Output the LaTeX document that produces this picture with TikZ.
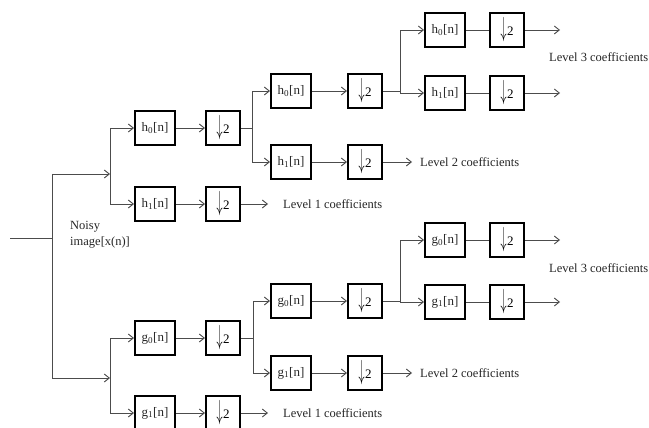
\documentclass[tikz,border=0pt]{standalone}
\usepackage{fontspec}
\usepackage{graphicx}
\setmainfont{Liberation Serif}
\usetikzlibrary{arrows.meta}
\newcommand\dnlab{\raisebox{-1pt}{\scalebox{1}[2.3]{$\downarrow$}}\kern0.5pt 2}
\newcommand\flab[2]{#1\textsubscript{#2}[n]}
\begin{document}
\begin{tikzpicture}[x=1pt,y=-1pt,
  filt/.style={draw=black, line width=2pt, minimum width=40pt, minimum height=34pt, inner sep=0pt, font=\fontsize{13}{13}\selectfont, text=black!85},
  dnbox/.style={filt, minimum width=34pt, minimum height=34pt, text=black},
  conn/.style={draw=black!70, line width=0.9pt},
  arr/.style={conn, -{Straight Barb[length=5pt,width=8pt]}},
  lab/.style={anchor=west, inner sep=0pt, font=\fontsize{12.5}{16}\selectfont, text=black!85, align=left}]
\useasboundingbox (0,0) rectangle (649,428);

% ---------- Level 1 ----------
\node[filt]  (h0a) at (155,128) {\flab{h}{0}};
\node[dnbox] (d0a) at (223,128) {\dnlab};
\node[filt]  (h1a) at (155,204) {\flab{h}{1}};
\node[dnbox] (d1a) at (223,204) {\dnlab};
\node[filt]  (g0a) at (155,338) {\flab{g}{0}};
\node[dnbox] (e0a) at (223,338) {\dnlab};
\node[filt]  (g1a) at (155,413) {\flab{g}{1}};
\node[dnbox] (e1a) at (223,413) {\dnlab};

% ---------- Level 2 ----------
\node[filt]  (h0b) at (291,91) {\flab{h}{0}};
\node[dnbox] (d0b) at (365,91) {\dnlab};
\node[filt]  (h1b) at (291,162) {\flab{h}{1}};
\node[dnbox] (d1b) at (365,162) {\dnlab};
\node[filt]  (g0b) at (291,301) {\flab{g}{0}};
\node[dnbox] (e0b) at (365,301) {\dnlab};
\node[filt]  (g1b) at (291,373) {\flab{g}{1}};
\node[dnbox] (e1b) at (365,373) {\dnlab};

% ---------- Level 3 ----------
\node[filt]  (h0c) at (445,30) {\flab{h}{0}};
\node[dnbox] (d0c) at (507,30) {\dnlab};
\node[filt]  (h1c) at (445,93) {\flab{h}{1}};
\node[dnbox] (d1c) at (507,93) {\dnlab};
\node[filt]  (g0c) at (445,240) {\flab{g}{0}};
\node[dnbox] (e0c) at (507,240) {\dnlab};
\node[filt]  (g1c) at (445,302) {\flab{g}{1}};
\node[dnbox] (e1c) at (507,302) {\dnlab};

% ---------- labels ----------
\node[lab] (noisy) at (70,235) {Noisy\\image[x(n)]};
\node[lab] (l1a) at (283,204) {Level 1 coefficients};
\node[lab] (l1b) at (283,413) {Level 1 coefficients};
\node[lab] (l2a) at (420,162) {Level 2 coefficients};
\node[lab] (l2b) at (420,373) {Level 2 coefficients};
\node[lab] (l3a) at (549,57) {Level 3 coefficients};
\node[lab] (l3b) at (549,268) {Level 3 coefficients};

% ---------- junction coordinates ----------
\coordinate (in)  at (10,238);
\coordinate (j0)  at (52,238);
\coordinate (j0t) at (52,174);
\coordinate (j0b) at (52,378);
\coordinate (j1t) at (110,174);
\coordinate (j1b) at (110,378);
\coordinate (j2t) at (252,128);
\coordinate (j2b) at (253,338);
\coordinate (j3t) at (400,91);
\coordinate (j3b) at (400,301);
\coordinate (o1a) at (268,204);
\coordinate (o1b) at (268,413);
\coordinate (o2a) at (412,162);
\coordinate (o2b) at (412,373);
\coordinate (o3a) at (560,30);
\coordinate (o3b) at (560,93);
\coordinate (o3c) at (560,240);
\coordinate (o3d) at (560,302);

% ---------- connectors ----------
\draw[conn] (in) -- (j0);
\draw[conn] (j0t) -- (j0b);
\draw[arr] (j0t) -- (j1t);
\draw[arr] (j0b) -- (j1b);
\draw[arr] (j1t) |- (h0a);
\draw[arr] (j1t) |- (h1a);
\draw[arr] (j1b) |- (g0a);
\draw[arr] (j1b) |- (g1a);
\draw[arr] (h0a) -- (d0a);
\draw[arr] (h1a) -- (d1a);
\draw[arr] (g0a) -- (e0a);
\draw[arr] (g1a) -- (e1a);
\draw[arr] (d1a) -- (o1a);
\draw[arr] (e1a) -- (o1b);

\draw[conn] (d0a) -- (j2t);
\draw[conn] (e0a) -- (j2b);
\draw[arr] (j2t) |- (h0b);
\draw[arr] (j2t) |- (h1b);
\draw[arr] (j2b) |- (g0b);
\draw[arr] (j2b) |- (g1b);
\draw[arr] (h0b) -- (d0b);
\draw[arr] (h1b) -- (d1b);
\draw[arr] (g0b) -- (e0b);
\draw[arr] (g1b) -- (e1b);
\draw[arr] (d1b) -- (o2a);
\draw[arr] (e1b) -- (o2b);

\draw[conn] (d0b) -- (j3t);
\draw[conn] (e0b) -- (j3b);
\draw[arr] (j3t) |- (h0c);
\draw[arr] (j3t) |- (h1c);
\draw[arr] (j3b) |- (g0c);
\draw[arr] (j3b) |- (g1c);
\draw[conn] (h0c) -- (d0c);
\draw[conn] (h1c) -- (d1c);
\draw[conn] (g0c) -- (e0c);
\draw[conn] (g1c) -- (e1c);
\draw[arr] (d0c) -- (o3a);
\draw[arr] (d1c) -- (o3b);
\draw[arr] (e0c) -- (o3c);
\draw[arr] (e1c) -- (o3d);
\end{tikzpicture}
\end{document}
